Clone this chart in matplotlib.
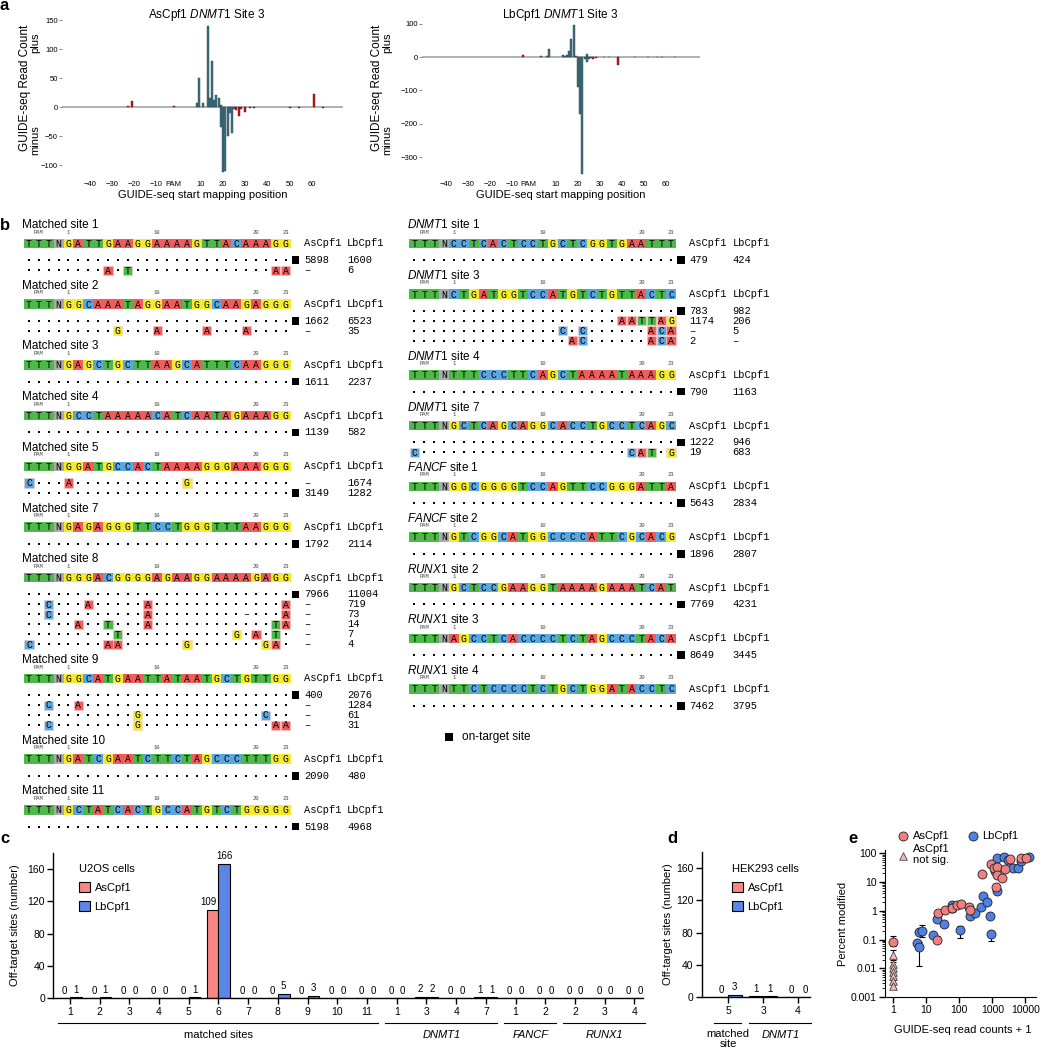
import matplotlib
matplotlib.use("Agg")
import matplotlib.pyplot as plt
import matplotlib.transforms as mtrans
from matplotlib.patches import Rectangle
import numpy as np

plt.rcParams['font.family'] = ['Liberation Sans', 'DejaVu Sans']
plt.rcParams['mathtext.fontset'] = 'custom'
plt.rcParams['mathtext.rm'] = 'Liberation Sans'
plt.rcParams['mathtext.it'] = 'Liberation Sans:italic'

W, H = 1043, 1050
fig = plt.figure(figsize=(W / 100, H / 100), dpi=100)


def add_ax(x0, y0, x1, y1):
    return fig.add_axes([x0 / W, 1 - y1 / H, (x1 - x0) / W, (y1 - y0) / H])


def fx(x):
    return x / W


def fy(y):
    return 1 - y / H


# ---------------- DATA ----------------
# panel a: GUIDE-seq read counts by start mapping position
as_pos = [8, 9, 11, 13, 14, 15, 16, 17, 18, 19, 19, 20, 21, 22, 23, 24, 25]
as_val = [7, 50, 7, 140, 16, 80, 12, 20, 16, 3, -35, -112, -110, -50, -10, -44, -4]
as_red_pos = [-23, -21, -2, 26, 27, 28, 30, 32, 34, 50, 54, 61, 65]
as_red_val = [1, 11, 1, -5, -15, -4, -8, -2, -2, -2, -1, 22, -2]
lb_pos = [3, 6, 7, 13, 14, 15, 16, 17, 18, 19, 20, 21, 22, 23, 24, 24, 25, 26, 32, 34]
lb_val = [3, 2, 25, 7, 4, 5, 18, 55, 95, 3, -90, -170, -350, -5, 10, -15, -5, -3, -1, -1]
lb_red_pos = [-5, 27, 28, 38, 46, 52, 56, 58, 64]
lb_red_val = [5, -5, -3, -25, -1, -1, -1, -1, -1]
a_xtick_pos = [-40, -30, -20, -10, -2.5, 10, 20, 30, 40, 50, 60]
a_xtick_lab = ['\u221240', '\u221230', '\u221220', '\u221210', 'PAM', '10', '20', '30', '40', '50', '60']

# panel b: target sequences, off-target variants, read counts (AsCpf1, LbCpf1)
left_sites = [
    ("Matched site 1", "TTTNGATTGAAGGAAAAGTTACAAAGG",
     [("...........................", True, 5898, 1600),
      ("........A.T..............AA", False, None, 6)]),
    ("Matched site 2", "TTTNGGCAAATAGGAATGGCAAGAGGG",
     [("...........................", True, 1662, 6523),
      (".........G...A....A...A....", False, None, 35)]),
    ("Matched site 3", "TTTNGAGCTGCTTAAGCATTTCAAGGG",
     [("...........................", True, 1611, 2237)]),
    ("Matched site 4", "TTTNGCCTAAAAACATCAATAGAAAGG",
     [("...........................", True, 1139, 582)]),
    ("Matched site 5", "TTTNGGATGCCACTAAAAGGGAAAGGG",
     [("C...A...........G..........", False, None, 1674),
      ("...........................", True, 3149, 1282)]),
    ("Matched site 7", "TTTNGAGAGGGTTCCTGGGTTTAAGGG",
     [("...........................", True, 1792, 2114)]),
    ("Matched site 8", "TTTNGGGACGGGGAGAAGGAAAAGAGG",
     [("...........................", True, 7966, 11004),
      ("..C...A.....A.............A", False, None, 719),
      ("..C.........A.........-...A", False, None, 73),
      (".....A..T...A............TA", False, None, 14),
      (".........T...........G.A.T.", False, None, 7),
      ("C.......AA......G.......GA.", False, None, 4)]),
    ("Matched site 9", "TTTNGGCATGAATTATAATGCTGTTGG",
     [("...........................", True, 400, 2076),
      ("..C..A.....................", False, None, 1284),
      ("...........G............C..", False, None, 61),
      ("..C........G.............AA", False, None, 31)]),
    ("Matched site 10", "TTTNGATCGAATCTTCTAGCCCTTTGG",
     [("...........................", True, 2090, 480)]),
    ("Matched site 11", "TTTNGCTATCACTGCCATGTCTGGGGG",
     [("...........................", True, 5198, 4968)]),
]
right_sites = [
    ("$\\it{DNMT1}$ site 1", "TTTNCCTCACTCCTGCTCGGTGAATTT",
     [("...........................", True, 479, 424)]),
    ("$\\it{DNMT1}$ site 3", "TTTNCTGATGGTCCATGTCTGTTACTC",
     [("...........................", True, 783, 982),
      (".....................AATTAG", False, 1174, 206),
      ("...............C.C......ACA", False, None, 5),
      ("................AC......ACA", False, 2, None)]),
    ("$\\it{DNMT1}$ site 4", "TTTNTTTCCCTTCAGCTAAAATAAAGG",
     [("...........................", True, 790, 1163)]),
    ("$\\it{DNMT1}$ site 7", "TTTNGCTCAGCAGGCACCTGCCTCAGC",
     [("...........................", True, 1222, 946),
      ("C.....................CAT.G", False, 19, 683)]),
    ("$\\it{FANCF}$ site 1", "TTTNGGCGGGGTCCAGTTCCGGGATTA",
     [("...........................", True, 5643, 2834)]),
    ("$\\it{FANCF}$ site 2", "TTTNGTCGGCATGGCCCCATTCGCACG",
     [("...........................", True, 1896, 2807)]),
    ("$\\it{RUNX1}$ site 2", "TTTNGCTCCGAAGGTAAAAGAAATCAT",
     [("...........................", True, 7769, 4231)]),
    ("$\\it{RUNX1}$ site 3", "TTTNAGCCTCACCCCTCTAGCCCTACA",
     [("...........................", True, 8649, 3445)]),
    ("$\\it{RUNX1}$ site 4", "TTTNTTCTCCCCTCTGCTGGATACCTC",
     [("...........................", True, 7462, 3795)]),
]

# panel c: U2OS off-target counts
c_cats = ['1', '2', '3', '4', '5', '6', '7', '8', '9', '10', '11',
          '1', '3', '4', '7', '1', '2', '2', '3', '4']
c_as = [0, 0, 0, 0, 0, 109, 0, 0, 0, 0, 0, 0, 2, 0, 1, 0, 0, 0, 0, 0]
c_lb = [1, 1, 0, 0, 1, 166, 0, 5, 3, 0, 0, 0, 2, 0, 1, 0, 0, 0, 0, 0]
c_groups = [("matched sites", 0, 10, False), ("DNMT1", 11, 14, True),
            ("FANCF", 15, 16, True), ("RUNX1", 17, 19, True)]

# panel d: HEK293 off-target counts
d_cats = ['5', '3', '4']
d_as = [0, 1, 0]
d_lb = [3, 1, 0]
d_groups = [("matched\nsite", 0, 0, False), ("DNMT1", 1, 2, True)]

# panel e: percent modified vs GUIDE-seq read counts + 1
e_as_x = [1, 21, 23, 37, 60, 85, 110, 200, 215, 470, 890, 1130, 1300, 1430, 1430, 1900, 2400, 3500, 7300, 10400]
e_as_y = [0.085, 0.10, 0.85, 1.1, 1.2, 1.6, 1.7, 1.3, 1.1, 19, 42, 30, 6.9, 32, 17.5, 13.5, 28, 62, 68, 68]
e_as_lo = [0.06, 0.08, 0.85, 1.1, 1.2, 1.6, 1.7, 1.0, 1.1, 19, 42, 30, 5.0, 32, 17.5, 13.5, 28, 62, 68, 68]
e_as_hi = [0.13, 0.13, 0.85, 1.1, 1.2, 1.6, 1.7, 1.6, 1.1, 19, 42, 30, 8.5, 32, 17.5, 13.5, 28, 62, 68, 68]
e_lb_x = [5.1, 6.1, 6.1, 7.2, 15.6, 20.6, 34, 58, 62, 105, 210, 300, 450, 530, 700, 850, 890,
          1200, 1430, 1430, 2270, 3000, 4300, 6000, 7250, 13000]
e_lb_y = [0.077, 0.053, 0.185, 0.2, 0.14, 0.5, 0.34, 1.6, 1.25, 0.21, 0.65, 0.85, 1.38, 3.2, 2.06, 0.65, 0.155,
          25, 4.8, 70, 76, 60, 30, 30, 55, 76]
e_lb_lo = [0.077, 0.012, 0.185, 0.12, 0.14, 0.5, 0.34, 1.6, 0.9, 0.11, 0.55, 0.85, 1.38, 3.2, 2.06, 0.65, 0.09,
           25, 4.8, 70, 76, 60, 30, 30, 55, 76]
e_lb_hi = [0.077, 0.08, 0.185, 0.33, 0.14, 0.5, 0.34, 1.6, 2.0, 0.3, 0.8, 0.85, 1.38, 3.2, 2.06, 0.65, 0.2,
           25, 4.8, 70, 76, 60, 30, 30, 55, 76]
e_ns_x = [1, 1, 1, 1, 1, 1, 1]
e_ns_y = [0.029, 0.014, 0.010, 0.0075, 0.0053, 0.0035, 0.0024]
e_ns_lo = [0.02, 0.011, 0.008, 0.006, 0.0045, 0.003, 0.002]
e_ns_hi = [0.042, 0.017, 0.012, 0.009, 0.0062, 0.004, 0.0028]

# ---------------- STYLE ----------------
TEAL, TEAL_E = '#42717F', '#23404A'
DRED = '#B3191B'
AS_COL, LB_COL = '#FA8585', '#5A86E6'
E_RED, E_BLUE, E_NS = '#F27F80', '#4F80E4', '#F5B8BA'
BASE_COL = {'A': '#EE5C5C', 'C': '#5AA6DE', 'G': '#F5EB2E', 'T': '#4EB84B', 'N': '#ABABAB'}
MONO = 'Liberation Mono'

# ---------------- PANEL a ----------------
def panel_a(box, xlim, ylim, yticks, pb, vb, pr, vr, title, tx, ylab_x):
    ax = add_ax(*box)
    ax.axhline(0, color='#ABABAB', lw=1.3, zorder=1)
    ax.bar(pb, vb, width=0.9, color=TEAL, edgecolor=TEAL_E, linewidth=0.3, zorder=2)
    ax.bar(pr, vr, width=0.9, color=DRED, edgecolor='#7A0E10', linewidth=0.3, zorder=2)
    ax.set_xlim(*xlim)
    ax.set_ylim(*ylim)
    for s in ax.spines.values():
        s.set_visible(False)
    ax.set_yticks(yticks)
    ax.set_yticklabels([str(t).replace('-', '\u2212') for t in yticks])
    ax.tick_params(axis='y', length=2, width=0.6, color='#777777', pad=1, labelsize=5.5)
    ax.set_xticks(a_xtick_pos)
    ax.set_xticklabels(a_xtick_lab)
    ax.tick_params(axis='x', length=0, pad=4, labelsize=5.5)
    ax.set_xlabel('GUIDE-seq start mapping position', fontsize=8, labelpad=2)
    ax.text(tx, 1.013, title, transform=ax.transAxes, ha='center', va='center', fontsize=8.5)
    ax.patch.set_alpha(0)
    fig.text(fx(ylab_x), fy(88), 'GUIDE-seq Read Count', rotation=90, ha='center', va='center', fontsize=8.5)
    fig.text(fx(ylab_x + 10), fy(43), 'plus', rotation=90, ha='center', va='center', fontsize=8)
    fig.text(fx(ylab_x + 10), fy(140), 'minus', rotation=90, ha='center', va='center', fontsize=8)
    return ax


panel_a((62, 17, 343, 175), (-52.6, 74), (-117.2, 155.2), [-100, -50, 0, 50, 100, 150],
        as_pos, as_val, as_red_pos, as_red_val, 'AsCpf1 $\\it{DNMT1}$ Site 3', 0.516, 25)
panel_a((422, 17, 700, 175), (-50.9, 75.5), (-354, 120), [-300, -200, -100, 0, 100],
        lb_pos, lb_val, lb_red_pos, lb_red_val, 'LbCpf1 $\\it{DNMT1}$ Site 3', 0.496, 377)

# ---------------- PANEL b ----------------
axb = fig.add_axes([0, 0, 1, 1], zorder=0)
axb.set_xlim(0, W)
axb.set_ylim(H, 0)
axb.axis('off')

CW = 9.87
RH = 9.5


def draw_column(x0, y, sites):
    for title, ref, rows in sites:
        axb.text(x0 - 7, y, title, fontsize=8.5, ha='left', va='center')
        ys = y + 18.5
        for c, lab in [(1, 'PAM'), (4, '1'), (13, '10'), (23, '20'), (26, '23')]:
            axb.text(x0 + c * CW, ys - 11.3, lab, fontsize=4.0, family=MONO,
                     ha='center', va='center', color='#444444')
        for c, b in enumerate(ref):
            axb.add_patch(Rectangle((x0 + c * CW - CW / 2, ys - RH / 2), CW, RH,
                                    facecolor=BASE_COL[b], edgecolor='none'))
            axb.text(x0 + c * CW, ys + 0.3, b, fontsize=7, family=MONO, ha='center', va='center')
        axb.text(x0 + 275, ys, 'AsCpf1', fontsize=7.5, family=MONO, ha='left', va='center')
        axb.text(x0 + 318, ys, 'LbCpf1', fontsize=7.5, family=MONO, ha='left', va='center')
        yr = ys + 16.7
        for pat, on, av, lv in rows:
            dx = []
            for c, ch in enumerate(pat):
                xc = x0 + c * CW
                if ch == '.':
                    dx.append(xc)
                elif ch == '-':
                    axb.text(xc, yr, '\u2013', fontsize=7, family=MONO, ha='center', va='center')
                else:
                    axb.add_patch(Rectangle((xc - 4.6, yr - 4.6), 9.2, 9.2, facecolor=BASE_COL[ch],
                                            edgecolor='#F3C9C9', linewidth=0.4))
                    axb.text(xc, yr + 0.3, ch, fontsize=7, family=MONO, ha='center', va='center')
            axb.scatter(dx, [yr] * len(dx), s=1.3, marker='s', color='black', linewidths=0)
            if on:
                axb.add_patch(Rectangle((x0 + 27 * CW - 3.8, yr - 3.8), 7.6, 7.6,
                                        facecolor='black', edgecolor='none'))
            axb.text(x0 + 275, yr, '\u2013' if av is None else str(av), fontsize=7.5, family=MONO,
                     ha='left', va='center')
            axb.text(x0 + 318, yr, '\u2013' if lv is None else str(lv), fontsize=7.5, family=MONO,
                     ha='left', va='center')
            yr += 10
        y = yr - 10 + 15.5


draw_column(29, 225, left_sites)
draw_column(414.4, 225, right_sites)
axb.add_patch(Rectangle((445, 733), 7.5, 7.5, facecolor='black', edgecolor='none'))
axb.text(462, 736.7, 'on-target site', fontsize=8.5, ha='left', va='center')

# ---------------- PANEL c / d ----------------
def bar_panel(box, xlim, cats, v_as, v_lb, groups, legtitle, leg_xy, ylab_x):
    ax = add_ax(*box)
    x = np.arange(len(cats))
    b1 = ax.bar(x - 0.196, v_as, 0.392, color=AS_COL, edgecolor='black', linewidth=0.8, label='AsCpf1', zorder=2)
    b2 = ax.bar(x + 0.196, v_lb, 0.392, color=LB_COL, edgecolor='black', linewidth=0.8, label='LbCpf1', zorder=2)
    labs1 = ax.bar_label(b1, padding=2, fontsize=7)
    ax.bar_label(b2, padding=2, fontsize=7)
    for t, v, w in zip(labs1, v_as, v_lb):
        if w > v > 9:
            t.xyann = (-3, 2)
    ax.set_xlim(*xlim)
    ax.set_ylim(0, 180)
    ax.set_yticks([0, 40, 80, 120, 160])
    ax.set_xticks(x)
    ax.set_xticklabels(cats)
    ax.spines['top'].set_visible(False)
    ax.spines['right'].set_visible(False)
    ax.spines['left'].set_linewidth(1.0)
    ax.spines['bottom'].set_linewidth(1.0)
    ax.tick_params(length=4, width=1.0, labelsize=7.5, pad=2)
    ax.set_ylabel('Off-target sites (number)', fontsize=8)
    ax.yaxis.set_label_coords((ylab_x - box[0]) / (box[2] - box[0]), 0.5)
    ax.patch.set_alpha(0)
    tr = mtrans.blended_transform_factory(ax.transData, fig.transFigure)
    for name, a, b, it in groups:
        ax.plot([a - 0.4, b + 0.36], [fy(1023.3)] * 2, transform=tr, color='black', lw=0.8, clip_on=False)
        ax.text((a + b) / 2, fy(1029) if '\n' in name else fy(1035), name, transform=tr, ha='center',
                va='top' if '\n' in name else 'center',
                fontsize=8, style='italic' if it else 'normal', linespacing=0.95)
    ax.legend(title=legtitle, loc='upper left', bbox_to_anchor=(fx(leg_xy[0]), fy(leg_xy[1])),
              bbox_transform=fig.transFigure, frameon=False, fontsize=8, title_fontsize=8,
              handlelength=0.95, handleheight=0.95, labelspacing=0.75, handletextpad=0.45,
              borderpad=0, borderaxespad=0, alignment='left')
    return ax


bar_panel((53.3, 852.9, 643, 998.3), (-0.56, 19.29), c_cats, c_as, c_lb, c_groups,
          'U2OS cells', (79, 864), 20)
bar_panel((701.7, 851.7, 810, 997.3), (-0.75, 2.34), d_cats, d_as, d_lb, d_groups,
          'HEK293 cells', (732, 864), 673)

# ---------------- PANEL e ----------------
axe = add_ax(885, 850, 1036, 997)
axe.set_xscale('log')
axe.set_yscale('log')


def err(ax, x, y, lo, hi):
    x, y, lo, hi = map(np.asarray, (x, y, lo, hi))
    m = (lo < y) | (hi > y)
    ax.errorbar(x[m], y[m], yerr=[y[m] - lo[m], hi[m] - y[m]], fmt='none', ecolor='black',
                elinewidth=0.8, capsize=2.5, capthick=0.8, zorder=2)


err(axe, e_ns_x, e_ns_y, e_ns_lo, e_ns_hi)
err(axe, e_as_x, e_as_y, e_as_lo, e_as_hi)
err(axe, e_lb_x, e_lb_y, e_lb_lo, e_lb_hi)
h_ns = axe.scatter(e_ns_x, e_ns_y, s=30, marker='^', color=E_NS, edgecolors='#444444', linewidths=0.6,
                   zorder=3, label='AsCpf1\nnot sig.')
h_lb = axe.scatter(e_lb_x, e_lb_y, s=42, marker='o', color=E_BLUE, edgecolors='#222222', linewidths=0.6,
                   zorder=3, label='LbCpf1')
h_as = axe.scatter(e_as_x, e_as_y, s=42, marker='o', color=E_RED, edgecolors='#222222', linewidths=0.6,
                   zorder=4, label='AsCpf1')
axe.set_xlim(0.56, 21000)
axe.set_ylim(0.001, 130)
axe.set_yticks([0.001, 0.01, 0.1, 1, 10, 100])
axe.set_yticklabels(['0.001', '0.01', '0.1', '1', '10', '100'])
axe.set_xticks([1, 10, 100, 1000, 10000])
axe.set_xticklabels(['1', '10', '100', '1000', '10000'])
axe.spines['top'].set_visible(False)
axe.spines['right'].set_visible(False)
axe.tick_params(which='major', length=4, width=1.0, labelsize=7.5, pad=2)
axe.tick_params(which='minor', length=2, width=0.6)
axe.set_ylabel('Percent modified', fontsize=8)
axe.yaxis.set_label_coords((848 - 885) / 151, 0.5)
axe.set_xlabel('GUIDE-seq read counts + 1', fontsize=8)
axe.xaxis.set_label_coords((963 - 885) / 151, (997 - 1025) / 147)
axe.patch.set_alpha(0)
axe.legend([h_as, h_ns, h_lb], ['AsCpf1', 'AsCpf1\nnot sig.', 'LbCpf1'], ncol=2, loc='upper left',
           bbox_to_anchor=(fx(897), fy(831)), bbox_transform=fig.transFigure, frameon=False,
           fontsize=8, handlelength=1.0, handletextpad=0.4, columnspacing=1.6, labelspacing=0.25,
           borderpad=0, borderaxespad=0, scatterpoints=1)

# ---------------- panel letters ----------------
for lab, x, y in [('a', 0, 10), ('b', 0, 230), ('c', 0, 843), ('d', 667, 843), ('e', 848, 843)]:
    fig.text(fx(x), fy(y), lab, fontsize=12, fontweight='bold', ha='left', va='baseline')

fig.savefig('out.png', dpi=100)
